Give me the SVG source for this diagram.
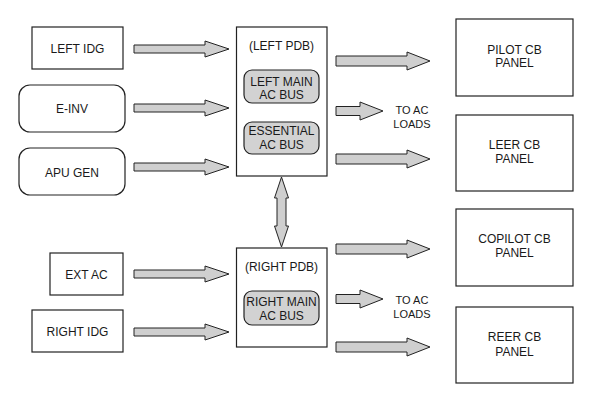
<svg xmlns="http://www.w3.org/2000/svg" width="600" height="400" viewBox="0 0 600 400">
<style>
text{font-family:"Liberation Sans",Arial,sans-serif;font-size:12px;fill:#1a1a1a;text-anchor:middle}
.sm{font-size:11px}
.box{fill:#fff;stroke:#222;stroke-width:1.2}
.bus{fill:#d2d2d2;stroke:#222;stroke-width:1.2}
.arr{fill:#cfcfcf;stroke:#222;stroke-width:1}
</style>
<rect width="600" height="400" fill="#fff"/>
<g id="left-idg"><rect class="box" x="32" y="27" width="91" height="42"/><text x="77.5" y="52.5">LEFT IDG</text></g>
<g id="e-inv"><rect class="box" x="19" y="85" width="106" height="47" rx="11"/><text x="72" y="113">E-INV</text></g>
<g id="apu-gen"><rect class="box" x="19" y="148" width="106" height="47" rx="11"/><text x="72" y="176.5">APU GEN</text></g>
<g id="ext-ac"><rect class="box" x="50" y="253" width="73" height="42"/><text x="86.5" y="278.5">EXT AC</text></g>
<g id="right-idg"><rect class="box" x="32" y="310" width="91" height="42"/><text x="77.5" y="335.5">RIGHT IDG</text></g>
<g id="left-pdb"><rect class="box" x="236.5" y="27" width="90.5" height="149"/><text x="281.5" y="50">(LEFT PDB)</text>
<rect class="bus" x="244" y="70" width="75" height="33" rx="8"/><text x="281.5" y="85.5">LEFT MAIN</text><text x="281.5" y="99">AC BUS</text>
<rect class="bus" x="244" y="122" width="75" height="32" rx="8"/><text x="281.5" y="135">ESSENTIAL</text><text x="281.5" y="149">AC BUS</text></g>
<g id="right-pdb"><rect class="box" x="236.5" y="248" width="90.5" height="99"/><text x="281.5" y="270.5">(RIGHT PDB)</text>
<rect class="bus" x="244" y="291" width="75" height="34" rx="8"/><text x="281.5" y="306">RIGHT MAIN</text><text x="281.5" y="320">AC BUS</text></g>
<g id="pilot-cb"><rect class="box" x="456" y="19" width="117" height="77"/><text x="514.5" y="53.5">PILOT CB</text><text x="514.5" y="67">PANEL</text></g>
<g id="leer-cb"><rect class="box" x="456" y="115" width="117" height="76"/><text x="514.5" y="149">LEER CB</text><text x="514.5" y="163">PANEL</text></g>
<g id="copilot-cb"><rect class="box" x="456" y="209" width="117" height="77"/><text x="514.5" y="243">COPILOT CB</text><text x="514.5" y="257">PANEL</text></g>
<g id="reer-cb"><rect class="box" x="456" y="307" width="117" height="76"/><text x="514.5" y="341">REER CB</text><text x="514.5" y="355.5">PANEL</text></g>
<g id="loads-top"><text class="sm" x="412" y="114">TO AC</text><text class="sm" x="412" y="128">LOADS</text></g>
<g id="loads-bottom"><text class="sm" x="412" y="304">TO AC</text><text class="sm" x="412" y="318">LOADS</text></g>
<g id="connectors">
<path class="arr" d="M134,45 H205 V41 L229,49 L205,57 V53 H134 Z"/>
<path class="arr" d="M134,104 H205 V100 L229,108 L205,116 V112 H134 Z"/>
<path class="arr" d="M134,163 H205 V159 L229,167 L205,175 V171 H134 Z"/>
<path class="arr" d="M134,270 H205 V266 L229,274 L205,282 V278 H134 Z"/>
<path class="arr" d="M134,328 H205 V324 L229,332 L205,340 V336 H134 Z"/>
<path class="arr" d="M336,56 H407 V52 L430,61 L407,70 V66 H336 Z"/>
<path class="arr" d="M336,106.5 H360 V102 L383,111 L360,120 V115.5 H336 Z"/>
<path class="arr" d="M336,154 H407 V150 L430,159 L407,168 V164 H336 Z"/>
<path class="arr" d="M336,244 H407 V240 L430,249 L407,258 V254 H336 Z"/>
<path class="arr" d="M336,294.5 H360 V290 L383,299 L360,308 V303.5 H336 Z"/>
<path class="arr" d="M336,342 H407 V338 L430,347 L407,356 V352 H336 Z"/>
<path class="arr" d="M281.5,177 L288.5,198 H286 V226 H288.5 L281.5,247 L274.5,226 H277 V198 H274.5 Z"/>
</g>
</svg>
